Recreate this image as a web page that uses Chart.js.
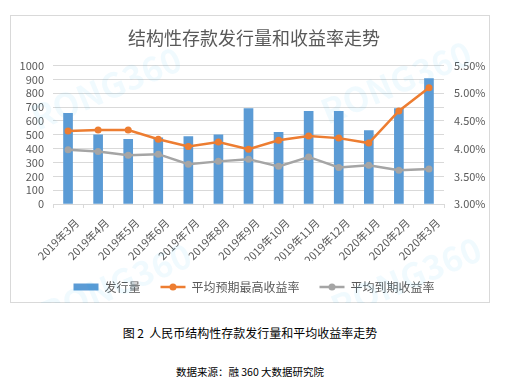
<!DOCTYPE html>
<html><head><meta charset="utf-8">
<script src="https://cdn.jsdelivr.net/npm/chart.js@4/dist/chart.umd.min.js"></script>
<style>
html,body{margin:0;padding:0;background:#fff;width:512px;height:382px;overflow:hidden;font-family:"Noto Sans CJK SC","Noto Sans",sans-serif;}
#box{position:absolute;left:10px;top:15px;width:478px;height:286px;border:1px solid #d9d9d9;}
#wrap{position:absolute;left:11px;top:16px;width:478px;height:287px;}
#cap{position:absolute;left:0;width:500px;top:324px;text-align:center;font-size:12px;color:#000;}
#src{position:absolute;left:0;width:500px;top:364px;text-align:center;font-size:10.5px;color:#000;}
</style></head>
<body>
<div id="box"></div>
<div id="wrap"><canvas id="c" width="478" height="287"></canvas></div>
<div id="cap">图 2&nbsp;&nbsp;人民币结构性存款发行量和平均收益率走势</div>
<div id="src">数据来源：融 360 大数据研究院</div>
<script>
const categories = ["2019年3月","2019年4月","2019年5月","2019年6月","2019年7月","2019年8月","2019年9月","2019年10月","2019年11月","2019年12月","2020年1月","2020年2月","2020年3月"];
const issuance = [655, 500, 467, 478, 488, 500, 690, 517, 669, 669, 531, 690, 906];
const expectedMaxYield = [4.32, 4.335, 4.335, 4.17, 4.04, 4.12, 3.99, 4.15, 4.23, 4.19, 4.10, 4.68, 5.10];
const maturityYield = [3.98, 3.95, 3.88, 3.90, 3.72, 3.77, 3.81, 3.68, 3.85, 3.66, 3.70, 3.61, 3.63];
const seriesNames = ["发行量", "平均预期最高收益率", "平均到期收益率"];
const titleText = "结构性存款发行量和收益率走势";

const TXT = "#595959";
const FONT = '"Noto Sans CJK SC","Noto Sans",sans-serif';

const watermark = {
  id: "watermark",
  beforeDatasetsDraw(chart) {
    const ctx = chart.ctx;
    ctx.save();
    ctx.fillStyle = "rgba(0,176,240,0.06)";
    ctx.font = "bold 34px " + FONT;
    const spots = [[95, 72], [385, 66], [105, 268], [395, 262]];
    for (const [x, y] of spots) {
      ctx.save();
      ctx.translate(x, y);
      ctx.rotate(-0.4);
      ctx.textAlign = "center";
      ctx.textBaseline = "middle";
      ctx.fillText("RONG360", 0, 0);
      ctx.restore();
    }
    ctx.restore();
  }
};

const legendDots = {
  id: "legendDots",
  afterDraw(chart) {
    const lg = chart.legend;
    if (!lg || !lg.legendHitBoxes) return;
    const ctx = chart.ctx;
    const colors = [null, "#ed7d31", "#a5a5a5"];
    lg.legendHitBoxes.forEach((hb, i) => {
      if (!colors[i]) return;
      const cx = hb.left + 12.5;
      const cy = hb.top + hb.height / 2;
      ctx.save();
      ctx.beginPath();
      ctx.arc(cx, cy, 3.5, 0, Math.PI * 2);
      ctx.fillStyle = colors[i];
      ctx.fill();
      ctx.restore();
    });
  }
};

new Chart(document.getElementById("c"), {
  data: {
    labels: categories,
    datasets: [
      { type: "line", label: seriesNames[1], data: expectedMaxYield, yAxisID: "y2",
        borderColor: "#ed7d31", backgroundColor: "#ed7d31", borderWidth: 2.5,
        pointRadius: 3.5, pointBackgroundColor: "#ed7d31", pointBorderWidth: 0, tension: 0, order: 1 },
      { type: "line", label: seriesNames[2], data: maturityYield, yAxisID: "y2",
        borderColor: "#a5a5a5", backgroundColor: "#a5a5a5", borderWidth: 2.5,
        pointRadius: 3.5, pointBackgroundColor: "#a5a5a5", pointBorderWidth: 0, tension: 0, order: 2 },
      { type: "bar", label: seriesNames[0], data: issuance, yAxisID: "y",
        backgroundColor: "#5b9bd5", barThickness: 9, order: 3 }
    ]
  },
  options: {
    responsive: false,
    animation: false,
    layout: { padding: { left: 8, right: 0, top: 0, bottom: 0 } },
    plugins: {
      title: { display: true, text: titleText, color: TXT,
        font: { family: FONT, size: 18, weight: "normal" }, padding: { top: 11, bottom: 17 } },
      tooltip: { enabled: false },
      legend: {
        position: "bottom",
        labels: {
          color: TXT, font: { family: FONT, size: 12 }, padding: 20,
          boxWidth: 25, boxHeight: 7, usePointStyle: true, pointStyleWidth: 25,
          generateLabels(chart) {
            return [
              { text: seriesNames[0], fillStyle: "#5b9bd5", strokeStyle: "#5b9bd5", lineWidth: 0, pointStyle: "rect", datasetIndex: 2, fontColor: TXT },
              { text: seriesNames[1], fillStyle: "#ed7d31", strokeStyle: "#ed7d31", lineWidth: 2.5, pointStyle: "line", datasetIndex: 0, fontColor: TXT },
              { text: seriesNames[2], fillStyle: "#a5a5a5", strokeStyle: "#a5a5a5", lineWidth: 2.5, pointStyle: "line", datasetIndex: 1, fontColor: TXT }
            ];
          }
        }
      }
    },
    scales: {
      x: {
        offset: true,
        grid: { display: true, drawOnChartArea: false, drawTicks: true, tickLength: 4, offset: true, color: "#d9d9d9" },
        border: { display: true, color: "#d9d9d9" },
        ticks: { color: TXT, font: { family: FONT, size: 11 }, minRotation: 45, maxRotation: 45, autoSkip: false, padding: 8, labelOffset: 9 },
        afterFit(s) { s.height = 57; }
      },
      y: {
        position: "left", min: 0, max: 1000,
        grid: { color: "#d9d9d9", drawTicks: false },
        border: { display: false },
        ticks: { stepSize: 100, autoSkip: false, color: TXT, font: { family: FONT, size: 11 }, padding: 9,
          callback: v => String(v) },
        afterFit(s) { s.width = 34; }
      },
      y2: {
        position: "right", min: 3, max: 5.5,
        grid: { drawOnChartArea: false, drawTicks: false },
        border: { display: false },
        ticks: { stepSize: 0.5, autoSkip: false, color: TXT, font: { family: FONT, size: 11 }, padding: 10,
          callback: v => v.toFixed(2) + "%" },
        afterFit(s) { s.width = 45; }
      }
    }
  },
  plugins: [watermark, legendDots]
});
</script>
</body></html>
